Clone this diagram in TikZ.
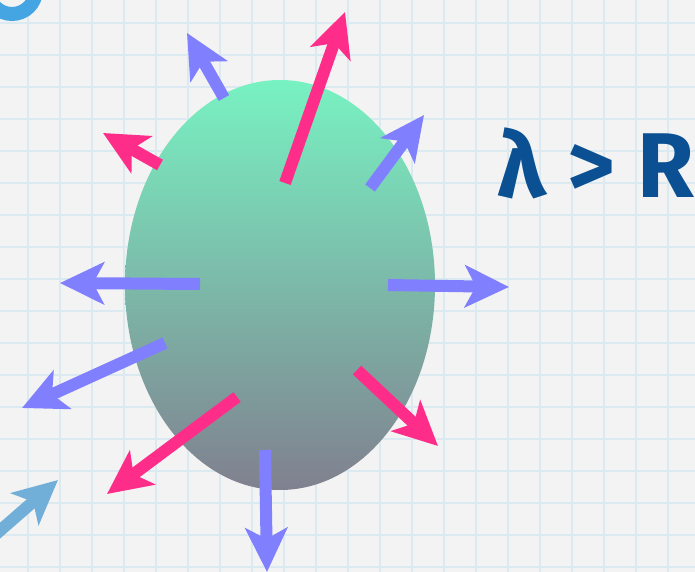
\documentclass[tikz,border=0pt]{standalone}
\usepackage{fontspec}
\setsansfont{Fira Sans}
\usetikzlibrary{arrows.meta}
\definecolor{swPaper}{HTML}{F3F3F3}
\definecolor{swGrid}{HTML}{DAEAF0}
\definecolor{swPink}{HTML}{FF2D8A}
\definecolor{swBlue}{HTML}{8080FF}
\definecolor{swSky}{HTML}{72AFD8}
\definecolor{swRing}{HTML}{45A4E2}
\definecolor{swInk}{HTML}{0B5092}
\definecolor{swMint}{HTML}{78F2C2}
\definecolor{swSea}{HTML}{6CCAA6}
\definecolor{swSlate}{HTML}{80808F}
\tikzset{
  sw grid/.style={draw=swGrid, line width=2pt},
  sw ray/.style={line width=12pt, -{Stealth[length=44pt, width=42pt, inset=11pt]}},
  sw pink/.style={sw ray, draw=swPink, fill=swPink},
  sw blue/.style={sw ray, draw=swBlue, fill=swBlue},
  sw label/.style={font=\sffamily\bfseries\fontsize{92}{92}\selectfont, text=swInk, inner sep=0pt},
}
\begin{document}
\begin{tikzpicture}[x=1pt, y=-1pt]
  \useasboundingbox (0,0) rectangle (695,572);
  \fill[swPaper] (0,0) rectangle (695,572);

  % Graph paper
  \foreach \gx in {28,60,...,700} {
    \draw[sw grid] (\gx,0) -- (\gx,572);
  }
  \foreach \gy in {23,55,...,580} {
    \draw[sw grid] (0,\gy) -- (695,\gy);
  }

  % Ring cut by the corner
  \begin{scope}
    \clip (0,0) rectangle (695,572);
    \draw[swRing, line width=14pt] (12,-10) circle (24);
  \end{scope}

  % The drop
  \shade[top color=swMint, middle color=swSea, bottom color=swSlate]
    (280,285) ellipse [x radius=155, y radius=205];

  % Rays, pink
  \draw[sw pink] (285,183) -- (345,12);
  \draw[sw pink] (160,165) -- (103,133);
  \draw[sw pink] (237,397) -- (107,494);
  \draw[sw pink] (357,370) -- (438,446);

  % Rays, blue
  \draw[sw blue] (224,98) -- (187,33);
  \draw[sw blue] (370,188) -- (424,115);
  \draw[sw blue] (200,284) -- (60,283);
  \draw[sw blue] (388,285) -- (509,287);
  \draw[sw blue] (165,343) -- (22,408);
  \draw[sw blue] (265,450) -- (267,572);

  % Stray ray in the corner
  \draw[sw ray, draw=swSky, fill=swSky] (-5,535) -- (58,480);

  % Condition
  \node[sw label, anchor=base west] (cond) at (497,197) {λ > R};
\end{tikzpicture}
\end{document}
